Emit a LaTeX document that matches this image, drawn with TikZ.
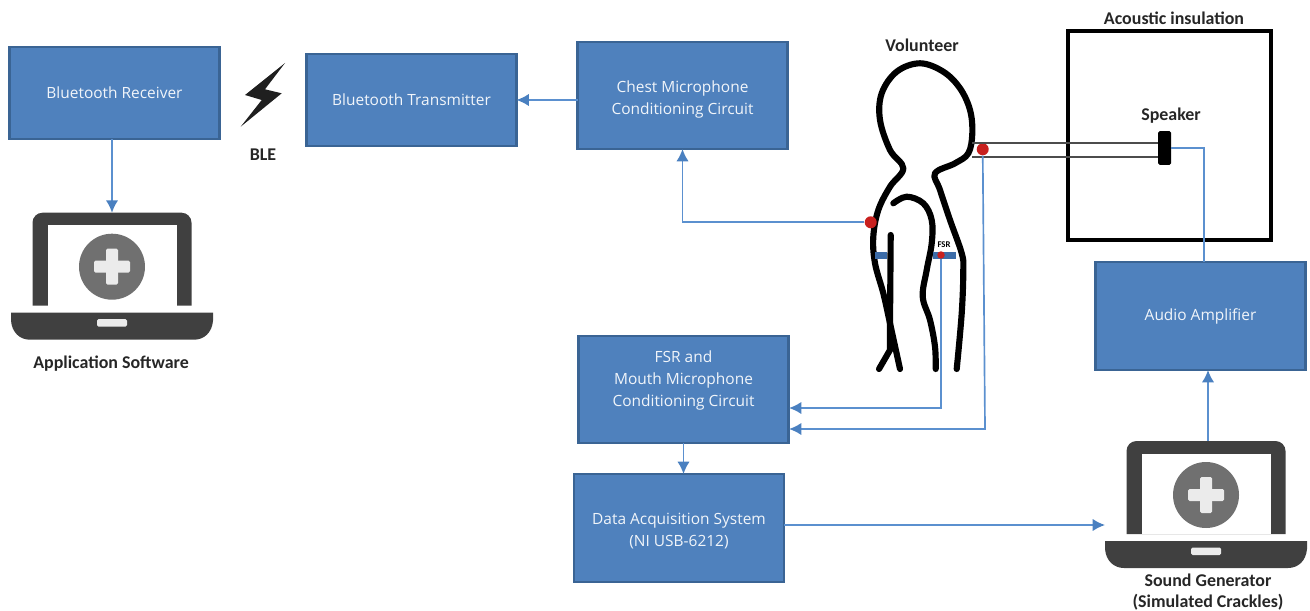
\documentclass[tikz,border=0pt]{standalone}
\usepackage{fontspec}
\setmainfont{Open Sans}
\newfontfamily\labelfont{Carlito}
\usepackage{xcolor}
\usetikzlibrary{calc, arrows.meta}
\definecolor{blocfill}{HTML}{4F81BD}
\definecolor{blocedge}{HTML}{3A6494}
\definecolor{wire}{HTML}{5B90CF}
\definecolor{wiretip}{HTML}{4A80C0}
\definecolor{sensor}{HTML}{C8201E}
\definecolor{strap}{HTML}{3C6CA8}
\definecolor{laptopdark}{HTML}{404040}
\definecolor{laptopgrey}{HTML}{707070}
\tikzstyle{bloc} = [rectangle, draw=blocedge, fill=blocfill, line width=1.6pt, minimum width=4.2cm, text=white!92!blocfill, align=center, font=\fontsize{8.8}{12.4}\selectfont, outer sep=0pt]
\tikzstyle{caption} = [align=center, font=\labelfont\bfseries\fontsize{10.2}{12.2}\selectfont, text=black!85]
\tikzstyle{fil} = [draw=wire, line width=0.95pt]
\tikzstyle{fleche} = [fil, -{Latex[length=7pt,width=7pt,color=wiretip]}]
\tikzstyle{sonde} = [circle, fill=sensor, inner sep=0pt, minimum size=0.24cm]
\tikzstyle{corps} = [draw=black, line width=3.5pt, line cap=round, line join=round]
\tikzset{laptop/.pic={
    \fill[laptopdark] (-79.5,93) {[rounded corners=0.2cm] -- (-79.5,0) -- (79.5,0)} -- (79.5,93) -- cycle;
    \fill[white] (-64.5,93) -- (-64.5,12.5) -- (64.5,12.5) -- (64.5,93) -- cycle;
    \fill[laptopgrey] (0,54) circle (0.66cm);
    \fill[white!92!black, rounded corners=0.03cm] (-18,48) rectangle (18,60);
    \fill[white!92!black, rounded corners=0.03cm] (-6,36) rectangle (6,72);
    \fill[laptopdark] (-101,100) -- (101,100) -- (101,108) .. controls (100,120) and (92,127) .. (82,127) -- (-82,127) .. controls (-92,127) and (-100,120) .. (-101,108) -- cycle;
    \fill[white!92!black, rounded corners=0.03cm] (-15,106.5) rectangle (15,114);
    \node (-box) [minimum width=4.04cm, minimum height=2.54cm, inner sep=0pt, outer sep=0pt] at (0,63.5) {};
}}

\begin{document}
\begin{tikzpicture}[x=0.02cm, y=-0.02cm]

        \useasboundingbox (0,0) rectangle (1310,611);

        % blocks
        \node (receiver) [bloc, minimum height=1.84cm] at (114.5,93) {Bluetooth Receiver};
        \node (transmitter) [bloc, minimum height=1.84cm] at (411.5,100) {Bluetooth Transmitter};
        \node (chest) [bloc, minimum height=2.14cm] at (682.5,95.5) {Chest Microphone\\Conditioning Circuit\\[-14.6pt]\mbox{}};
        \node (fsr) [bloc, minimum height=2.14cm] at (683.5,389.5) {FSR and\\Mouth Microphone\\Conditioning Circuit\\\mbox{}};
        \node (daq) [bloc, minimum height=2.16cm] at (679,528) {Data Acquisition System\\(NI USB-6212)\\[-14.6pt]\mbox{}};
        \node (amplifier) [bloc, minimum height=2.16cm] at (1200.5,316) {Audio Amplifier};

        % laptops
        \pic (software) at (112,212.7) {laptop};
        \pic (generator) at (1206,441) {laptop};

        % wireless link
        \fill[black!88] (285,63) -- (245,95) -- (261.7,100) -- (240.7,126.7) -- (281.7,93.3) -- (265,89.3) -- cycle;

        % insulation box and speaker
        \node (insulation) [rectangle, draw=black, line width=2.4pt, minimum width=4.06cm, minimum height=4.18cm, outer sep=0pt] at (1169.5,135.5) {};
        \node (speaker) [rectangle, fill=black, rounded corners=1pt, minimum width=0.26cm, minimum height=0.68cm, inner sep=0pt, outer sep=0pt] at (1164.5,148) {};

        % volunteer
        \draw[corps] plot[smooth, tension=0.6] coordinates {(900,369) (890,323.3) (883.3,293.3) (875,263.3) (873.3,236.7) (878.3,210) (890,186.7) (903.3,168.3) (890,150) (880,120) (881.7,93.3) (896.7,71.7) (920,63.3) (943.3,71.7) (960,88.3) (970,110) (972.3,133.3) (968.3,153.3) (955,163.3) (935,173.3) (940,190) (950,220) (961.7,253.3) (963.3,270) (961.7,313.3) (956.7,369)};
        \draw[corps] plot[smooth, tension=0.6] coordinates {(893.3,203.3) (906.7,196.7) (923.3,203.3) (931.7,220) (931.7,243.3) (926.7,270) (922.7,296.7) (930,320) (935,346.7) (935.7,369)};
        \draw[corps] (890.7,235) -- (890,323.3) -- (890,350) -- (879,369);

        % straps
        \fill[strap] (875,252) rectangle (887,259);
        \fill[strap] (933,252) rectangle (956,259);

        % sensors
        \node (chestmic) [sonde] at (870.7,222.3) {};
        \node (mouthmic) [sonde] at (982.7,149.3) {};
        \node (fsrpad) [sonde, minimum size=0.15cm] at (941,255) {};

        % tubing
        \coordinate (tubeup) at (972,142.7);
        \coordinate (tubedown) at (972,156.7);
        \draw[draw=black!70, line width=1.1pt] (tubeup) -- (tubeup -| speaker.west);
        \draw[draw=black!70, line width=1.1pt] (tubedown) -- (tubedown -| speaker.west);

        % connection points
        \coordinate (fsrin) at (789,408);
        \coordinate (mouthin) at (789,429);
        \coordinate (mouthbend) at (985,429);
        \coordinate (ampout) at (1204,262);
        \coordinate (ampin) at (1208,370);
        \coordinate (daqout) at (784,525);

        \draw[fleche] (receiver.south -| software-box.north) -- (software-box.north);
        \draw[fleche] (chest.west |- transmitter.east) -- (transmitter.east);
        \draw[fleche] (chestmic) -| (chest.south);
        \draw[fleche] (fsrpad) |- (fsrin);
        \draw[fleche] (mouthmic) -- (mouthbend) -- (mouthin);
        \draw[fleche] (fsr.south) -- (fsr.south |- daq.north);
        \draw[fleche] (daqout) -- (daqout -| generator-box.west);
        \draw[fleche] (ampin |- generator-box.north) -- (ampin);
        \draw[fil] (speaker.east) -| (ampout);

        % labels
        \node (ble) [caption] at (263,155) {BLE};
        \node (volunteer) [caption] at (922,45) {Volunteer};
        \node (acoustic) [caption] at (1174,18) {Acoustic insulation};
        \node (speakerlabel) [caption] at (1171,116) {Speaker};
        \node (softwarelabel) [caption] at (111,364) {Application Software};
        \node (generatorlabel) [caption] at (1208,592) {Sound Generator\\(Simulated Crackles)};
        \node (fsrlabel) [font=\labelfont\bfseries\fontsize{5}{5}\selectfont, inner sep=0pt] at (944,245) {FSR};

    \end{tikzpicture}
\end{document}
